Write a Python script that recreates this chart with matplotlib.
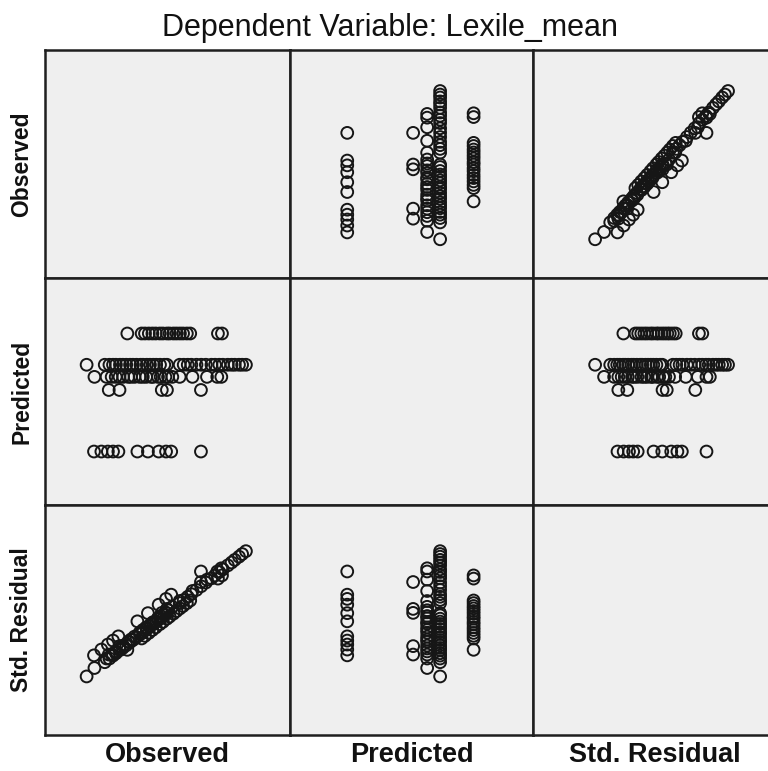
import numpy as np
import matplotlib
matplotlib.use("Agg")
import matplotlib.pyplot as plt

plt.rcParams['font.family'] = ['Liberation Sans', 'DejaVu Sans']

# ==================== Data ====================
# predicted value of each group (model only gives 5 distinct values)
pred_levels = [560, 621, 634, 646, 677]

obs_p1 = [811, 678, 655, 622, 574, 527, 442, 418, 395, 366, 333]
res_p1 = [1.67, 0.79, 0.63, 0.41, 0.09, -0.22, -0.79, -0.95, -1.10, -1.29, -1.51]

obs_p2 = [811, 659, 636, 447, 399]
res_p2 = [1.27, 0.25, 0.10, -1.16, -1.48]

obs_p3 = [902, 884, 838, 773, 716, 683, 664, 652, 631, 619, 597, 588,
          566, 551, 537, 514, 498, 486, 463, 447, 430, 412, 389, 335]
res_p3 = [1.79, 1.67, 1.36, 0.93, 0.55, 0.33, 0.20, 0.12, -0.02, -0.10, -0.25, -0.31,
          -0.45, -0.55, -0.65, -0.80, -0.91, -0.99, -1.14, -1.25, -1.36, -1.48, -1.63, -1.99]

obs_p4 = [1012, 995, 981, 962, 948, 931, 909, 893, 874, 858, 833, 812, 791,
          768, 752, 734, 716, 659, 647, 628, 611, 598, 583, 569, 552, 541,
          523, 507, 494, 477, 462, 449, 431, 418, 402, 381, 300]
res_p4 = [2.44, 2.33, 2.23, 2.11, 2.01, 1.90, 1.75, 1.65, 1.52, 1.41, 1.25, 1.11, 0.97,
          0.81, 0.71, 0.59, 0.47, 0.09, 0.01, -0.12, -0.23, -0.32, -0.42, -0.51, -0.63, -0.70,
          -0.82, -0.93, -1.01, -1.13, -1.23, -1.31, -1.43, -1.52, -1.63, -1.77, -2.31]

obs_p5 = [905, 887, 763, 748, 731, 717, 702, 688, 671, 659, 641, 627,
          609, 594, 578, 561, 546, 482]
res_p5 = [1.52, 1.40, 0.57, 0.47, 0.36, 0.27, 0.17, 0.07, -0.04, -0.12, -0.24, -0.33,
          -0.45, -0.55, -0.66, -0.77, -0.87, -1.30]

var_names = ["Observed", "Predicted", "Std. Residual"]

obs_groups = [obs_p1, obs_p2, obs_p3, obs_p4, obs_p5]
res_groups = [res_p1, res_p2, res_p3, res_p4, res_p5]

observed = np.concatenate([np.asarray(g, float) for g in obs_groups])
predicted = np.concatenate([np.full(len(g), lv, float) for g, lv in zip(obs_groups, pred_levels)])
std_resid = np.concatenate([np.asarray(g, float) for g in res_groups])
columns = [observed, predicted, std_resid]

# ==================== Layout (pixels of the 768x771 picture) ====================
W, H = 768, 771
col_edges = [45, 290, 533, 777]   # last column runs past the right edge
row_edges = [50, 278, 505, 735]
lims = [(114, 1209), (507, 732), (-4.53, 4.19)]

fig = plt.figure(figsize=(W / 100, H / 100), dpi=100)
fig.patch.set_facecolor("white")

for i in range(3):          # row -> y variable
    for j in range(3):      # column -> x variable
        x0, x1 = col_edges[j], col_edges[j + 1]
        y0, y1 = row_edges[i], row_edges[i + 1]
        ax = fig.add_axes([x0 / W, 1 - y1 / H, (x1 - x0) / W, (y1 - y0) / H])
        ax.set_facecolor("#efefef")
        ax.set_xticks([])
        ax.set_yticks([])
        for sp in ax.spines.values():
            sp.set_linewidth(1.8)
            sp.set_color("#1f1f1f")
        ax.set_xlim(*lims[j])
        ax.set_ylim(*lims[i])
        if i != j:
            ax.scatter(columns[j], columns[i], s=72, facecolors="none",
                       edgecolors="#161616", linewidths=1.4, zorder=3)

# ==================== Texts ====================
fig.text(390 / W, 1 - 28 / H, "Dependent Variable: Lexile_mean",
         ha="center", va="center", fontsize=22, color="#111111")

for j, name in enumerate(var_names):
    xc = (col_edges[j] + col_edges[j + 1]) / 2
    fig.text(xc / W, 1 - 755 / H, name, ha="center", va="center",
             fontsize=19.5, fontweight="bold", color="#111111")

for i, name in enumerate(var_names):
    yc = (row_edges[i] + row_edges[i + 1]) / 2
    fig.text(22 / W, 1 - yc / H, name, ha="center", va="center", rotation=90,
             fontsize=16.5, fontweight="bold", color="#111111")

plt.savefig("out.png", dpi=100)
